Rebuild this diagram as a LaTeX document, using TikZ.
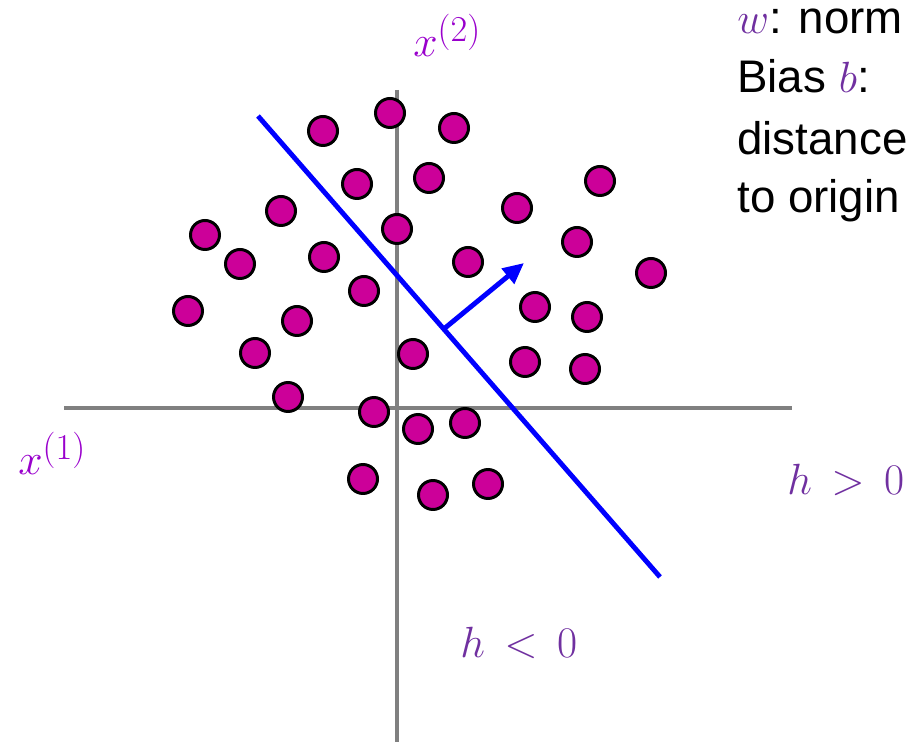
\documentclass[tikz,border=0pt]{standalone}
\usepackage{amsmath}
\usepackage{fontspec}
\setmainfont{Liberation Sans}
\usetikzlibrary{arrows.meta}

\DeclareMathSizes{27}{27}{20}{15}

\definecolor{dotmag}{RGB}{204,0,153}
\definecolor{axlab}{RGB}{153,0,204}
\definecolor{hlab}{RGB}{112,48,160}

\tikzset{
    datadot/.style={circle, draw=black, line width=1.7pt, fill=dotmag, minimum size=0.58cm, inner sep=0pt},
    axisline/.style={draw=gray, line width=2pt},
    mathlab/.style={inner sep=0pt, anchor=base west, font=\fontsize{27}{32}\selectfont},
    textline/.style={inner sep=0pt, anchor=base west, text height=0.72em, font=\fontsize{26}{34}\selectfont}
}

\begin{document}
\begin{tikzpicture}[x=0.02cm, y=-0.02cm]
    \useasboundingbox (0,0) rectangle (909,742);
    \clip (0,0) rectangle (909,742);

    % axes
    \coordinate (xleft) at (64,408);
    \coordinate (xright) at (792,408);
    \coordinate (ytop) at (397,90);
    \coordinate (ybot) at (397,742);
    \draw[axisline] (xleft) -- (xright);
    \draw[axisline] (ytop) -- (ybot);

    % data points
    \foreach \px/\py [count=\i] in {323/131, 390/113, 454/128, 600/181, 357/184, 429/178,
        517/208, 281/211, 397/229, 205/235, 577/242, 240/264, 324/257, 468/262, 651/273,
        364/291, 188/311, 297/321, 535/307, 587/317, 255/353, 413/354, 525/362, 585/369,
        288/397, 374/412, 418/429, 465/423, 363/479, 433/495, 488/484}
        \node[datadot] (d\i) at (\px,\py) {};

    % separating line and normal vector
    \coordinate (hstart) at (258,116);
    \coordinate (hend) at (660,577);
    \draw[blue, line width=2.8pt] (hstart) -- (hend);
    \coordinate (wfoot) at (445,328);
    \coordinate (wtip) at (524,263);
    \draw[blue, line width=2.8pt, -{Triangle[length=0.42cm, width=0.38cm]}] (wfoot) -- (wtip);

    % labels
    \node[mathlab, text=axlab] (lx2) at (413,57) {$x^{(2)}$};
    \node[mathlab, text=axlab] (lx1) at (18,475) {$x^{(1)}$};
    \node[mathlab, text=hlab] (hpos) at (787,495) {$h\,>\,0$};
    \node[mathlab, text=hlab] (hneg) at (460,657) {$h\,<\,0$};

    \node[textline] (t1) at (737,34) {\textcolor{hlab}{$w$}: norm};
    \node[textline] (t2) at (737,93) {Bias \textcolor{hlab}{$b$}:};
    \node[textline] (t3) at (737,155) {distance};
    \node[textline] (t4) at (737,213) {to origin};
\end{tikzpicture}
\end{document}
